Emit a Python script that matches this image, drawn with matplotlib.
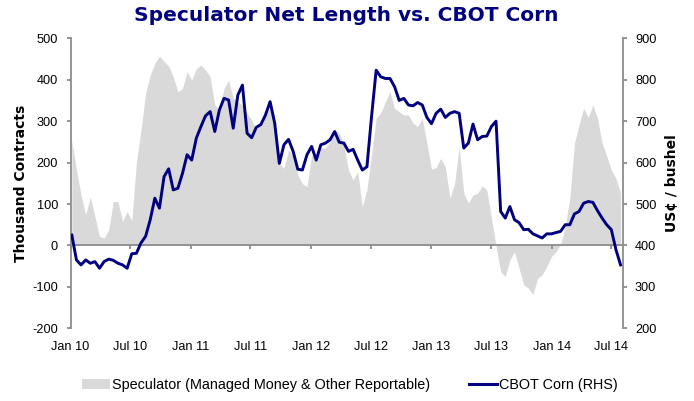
import pandas as pd
import matplotlib
matplotlib.use('Agg')
import matplotlib.pyplot as plt
import matplotlib.dates as mdates
from matplotlib.patches import Patch
from matplotlib.lines import Line2D

# fortnightly readings, Jan 2010 - Jul 2014
dates = pd.date_range('2010-01-05', periods=120, freq='14D')

# speculator net length, thousand contracts (LHS)
speculator = [255, 182, 122, 74, 118, 70, 22, 18, 38, 106,
              106, 58, 82, 60, 200, 279, 367, 411, 440, 457,
              444, 433, 407, 371, 379, 419, 399, 427, 435, 423,
              407, 339, 327, 379, 399, 355, 347, 339, 319, 303,
              280, 295, 315, 331, 295, 198, 186, 231, 218, 170,
              149, 142, 218, 210, 235, 235, 251, 279, 271, 243,
              182, 158, 178, 94, 134, 219, 307, 320, 347, 371,
              331, 323, 315, 315, 295, 287, 307, 247, 184, 188,
              210, 190, 114, 148, 239, 126, 102, 122, 126, 144,
              134, 66, -2, -63, -75, -35, -15, -55, -95, -103,
              -119, -79, -71, -51, -27, -15, 2, 46, 114, 247,
              291, 331, 309, 339, 307, 247, 216, 182, 162, 126]

# CBOT corn, US cents / bushel (RHS)
corn = [425, 365, 353, 365, 357, 361, 345, 361, 367, 364,
        357, 353, 345, 380, 381, 406, 422, 462, 514, 490,
        566, 585, 534, 538, 574, 619, 606, 659, 687, 713,
        723, 675, 727, 755, 751, 683, 763, 787, 671, 660,
        685, 692, 715, 747, 695, 598, 643, 656, 627, 584,
        582, 619, 639, 606, 643, 647, 655, 675, 649, 647,
        627, 632, 606, 582, 590, 711, 823, 807, 803, 803,
        783, 750, 755, 739, 737, 745, 739, 709, 694, 719,
        729, 709, 719, 723, 719, 635, 647, 693, 655, 663,
        664, 687, 700, 482, 466, 494, 462, 455, 438, 439,
        428, 423, 418, 428, 428, 431, 434, 450, 450, 476,
        482, 502, 506, 504, 484, 466, 450, 438, 390, 353]

navy = '#000080'
grey = '#d9d9d9'
axis_col = '#8c8c8c'
plt.rcParams['font.family'] = ['Liberation Sans', 'DejaVu Sans']
plt.rcParams['axes.unicode_minus'] = False

fig = plt.figure(figsize=(6.94, 4.01), dpi=100)
ax = fig.add_axes([0.1016, 0.1813, 0.7954, 0.7232])
ax2 = ax.twinx()

ax.fill_between(dates, 0, speculator, color=grey, lw=0)
ax2.plot(dates, corn, color=navy, lw=2.1)

ax.set_xlim(pd.Timestamp('2010-01-01'), pd.Timestamp('2014-08-04'))
ax.set_ylim(-200, 500)
ax2.set_ylim(200, 900)
ax.set_yticks(range(-200, 501, 100))
ax2.set_yticks(range(200, 901, 100))

ax.xaxis.set_major_locator(mdates.MonthLocator(bymonth=[1, 7]))
ax.xaxis.set_major_formatter(mdates.DateFormatter('%b %y'))

# zero line carries the x ticks, labels sit under the plot
ax.spines['top'].set_position(('data', 0))
ax.spines['bottom'].set_visible(False)
ax.spines['right'].set_visible(False)
for s in ['top', 'bottom', 'left']:
    ax2.spines[s].set_visible(False)
for sp in [ax.spines['top'], ax.spines['left'], ax2.spines['right']]:
    sp.set_color(axis_col)
    sp.set_linewidth(1.3)

ax.tick_params(axis='x', top=True, bottom=False, labeltop=False, labelbottom=True,
               direction='in', length=3, color=axis_col, width=1.3, pad=9,
               labelsize=9.2)
ax.tick_params(axis='y', direction='out', length=3, color=axis_col, width=1.3,
               pad=6, labelsize=9.2)
ax2.tick_params(axis='y', direction='out', length=3, color=axis_col, width=1.3,
                pad=6, labelsize=9.2)

ax.set_ylabel('Thousand Contracts', fontsize=10, fontweight='bold',
              family='DejaVu Sans', labelpad=3)
ax2.set_ylabel('US¢ / bushel', fontsize=10, fontweight='bold',
               family='DejaVu Sans', labelpad=6)

fig.text(0.499, 0.962, 'Speculator Net Length vs. CBOT Corn', ha='center', va='center',
         color=navy, fontsize=14.5, fontweight='bold', family='DejaVu Sans')

handles = [Patch(facecolor=grey, edgecolor='none'), Line2D([], [], color=navy, lw=2.2)]
fig.legend(handles, ['Speculator (Managed Money & Other Reportable)', 'CBOT Corn (RHS)'],
           loc='center', bbox_to_anchor=(0.504, 0.04), ncol=2, frameon=False,
           fontsize=10.4, handlelength=1.95, handletextpad=0.15, columnspacing=2.7)

fig.savefig('out.png', dpi=100)
